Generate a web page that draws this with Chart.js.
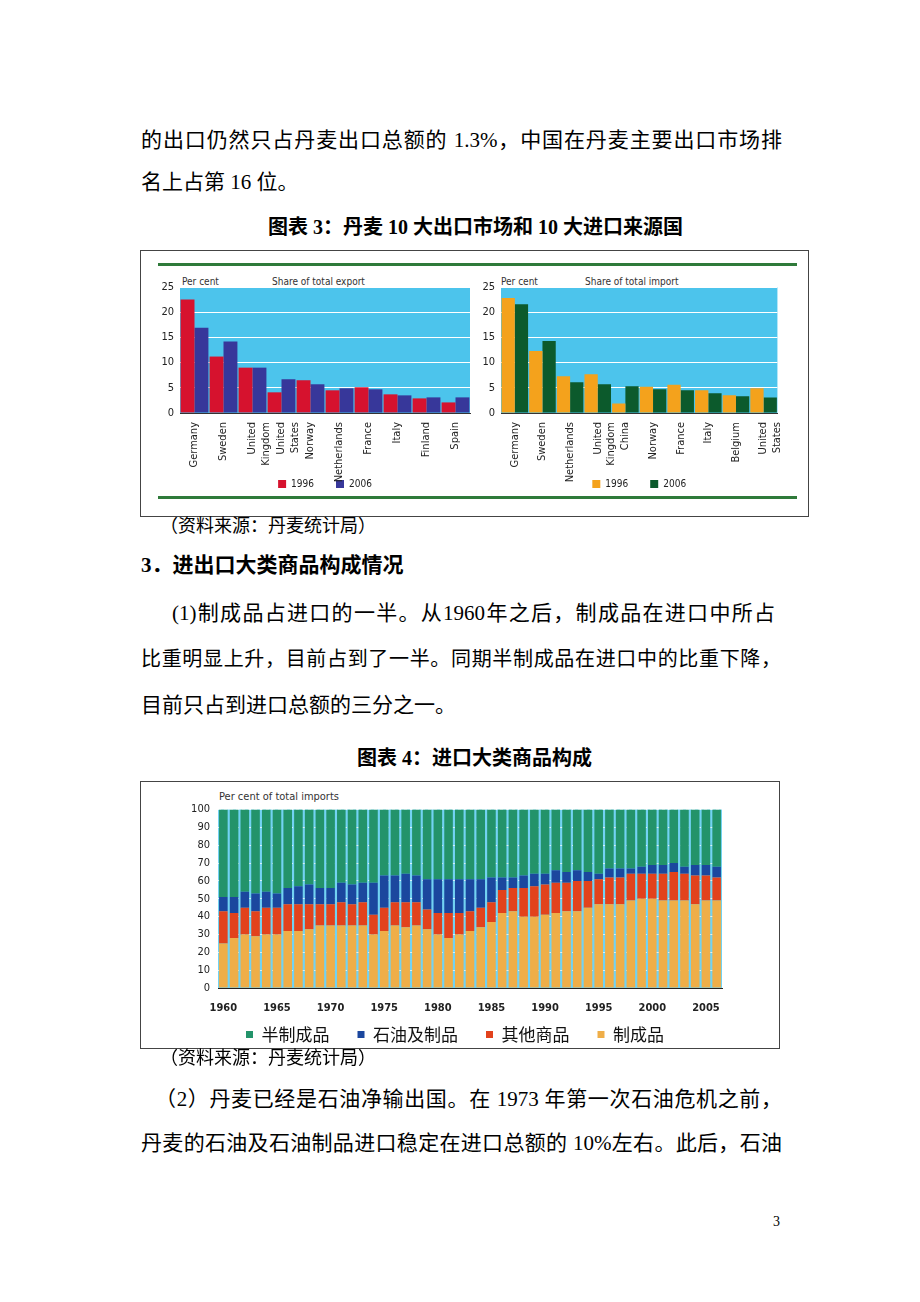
<!DOCTYPE html>
<html>
<head>
<meta charset="utf-8">
<script src="https://cdn.jsdelivr.net/npm/chart.js@4/dist/chart.umd.min.js"></script>
<style>
  body { margin:0; background:#fff; width:920px; height:1302px; position:relative; overflow:hidden;
         font-family:"Liberation Serif","Noto Sans CJK SC",serif; color:#000; }
  .t { position:absolute; font-size:21px; line-height:28px; white-space:nowrap; }
  .j { text-align:justify; text-align-last:justify; white-space:normal; }
  .b { font-weight:bold; }
  .box { position:absolute; border:1px solid #444; }
  .gl { position:absolute; height:3px; background:#2f7a3a; }
  .sm { position:absolute; font-family:"Liberation Sans Narrow","DejaVu Sans Condensed",sans-serif; font-size:10px; color:#333; white-space:nowrap; }
  canvas { position:absolute; }
</style>
</head>
<body>
<div class="t j" style="left:141px;top:126px;width:641px;">的出口仍然只占丹麦出口总额的 1.3%，中国在丹麦主要出口市场排</div>
<div class="t" style="left:141px;top:168px;">名上占第 16 位。</div>
<div class="t b" style="left:268px;top:213px;font-size:20px;">图表 3：丹麦 10 大出口市场和 10 大进口来源国</div>

<div class="box" style="left:140px;top:250px;width:667px;height:265px;"></div>
<div class="gl" style="left:158px;top:263px;width:639px;"></div>
<div class="gl" style="left:158px;top:496px;width:639px;"></div>
<div class="sm" style="left:182px;top:276px;">Per cent</div>
<div class="sm" style="left:272px;top:276px;">Share of total export</div>
<div class="sm" style="left:501px;top:276px;">Per cent</div>
<div class="sm" style="left:585px;top:276px;">Share of total import</div>
<canvas id="exp" width="330" height="229" style="left:150px;top:270px;"></canvas>
<canvas id="imp" width="320" height="229" style="left:471px;top:270px;"></canvas>

<div class="t" style="left:160px;top:512px;font-size:18px;">（资料来源：丹麦统计局）</div>
<div class="t b" style="left:141px;top:551px;">3．进出口大类商品构成情况</div>
<div class="t j" style="left:172px;top:599px;width:603px;">(1)制成品占进口的一半。从1960年之后，制成品在进口中所占</div>
<div class="t j" style="left:141px;top:645px;width:640px;font-size:20px;">比重明显上升，目前占到了一半。同期半制成品在进口中的比重下降，</div>
<div class="t" style="left:141px;top:691px;">目前只占到进口总额的三分之一。</div>
<div class="t b" style="left:357px;top:744px;font-size:20px;">图表 4：进口大类商品构成</div>

<div class="box" style="left:140px;top:781px;width:638px;height:266px;"></div>
<div class="sm" style="left:219px;top:790px;font-size:11px;">Per cent of total imports</div>
<canvas id="stk" width="620" height="258" style="left:150px;top:795px;"></canvas>

<div class="t" style="left:160px;top:1044px;font-size:18px;">（资料来源：丹麦统计局）</div>
<div class="t j" style="left:155px;top:1085px;width:627px;">（2）丹麦已经是石油净输出国。在 1973 年第一次石油危机之前，</div>
<div class="t j" style="left:141px;top:1129px;width:641px;">丹麦的石油及石油制品进口稳定在进口总额的 10%左右。此后，石油</div>
<div class="t" style="left:773px;top:1208px;font-size:14px;">3</div>

<script>
// figure 3 data (per cent)
const exportCountries = ['Germany', 'Sweden', ['United', 'Kingdom'], ['United', 'States'], 'Norway', 'Netherlands', 'France', 'Italy', 'Finland', 'Spain'];
const export1996 = [22.5, 11.2, 9.0, 4.1, 6.5, 4.5, 5.1, 3.7, 2.9, 2.1];
const export2006 = [16.9, 14.2, 9.0, 6.7, 5.7, 4.9, 4.7, 3.5, 3.1, 3.1];

const importCountries = ['Germany', 'Sweden', 'Netherlands', ['United', 'Kingdom'], 'China', 'Norway', 'France', 'Italy', 'Belgium', ['United', 'States']];
const import1996 = [22.8, 12.3, 7.3, 7.7, 1.9, 5.2, 5.6, 4.5, 3.5, 4.9];
const import2006 = [21.6, 14.3, 6.1, 5.7, 5.3, 4.7, 4.5, 3.9, 3.3, 3.1];

// figure 4 data (per cent of total imports)
const years = [1960, 1961, 1962, 1963, 1964, 1965, 1966, 1967, 1968, 1969,
  1970, 1971, 1972, 1973, 1974, 1975, 1976, 1977, 1978, 1979,
  1980, 1981, 1982, 1983, 1984, 1985, 1986, 1987, 1988, 1989,
  1990, 1991, 1992, 1993, 1994, 1995, 1996, 1997, 1998, 1999,
  2000, 2001, 2002, 2003, 2004, 2005, 2006];
const manufactured = [25, 28, 30, 29, 30, 30, 32, 32, 33, 35, 35, 35, 35, 35, 30, 32, 35, 34, 35, 33,
  30, 28, 30, 32, 34, 37, 42, 43, 40, 40, 41, 42, 43, 43, 45, 47, 47, 47, 49, 50, 50, 49, 49, 49, 47, 49, 49];
const otherGoods = [18, 14, 15, 14, 15, 15, 15, 15, 14, 12, 12, 13, 12, 13, 11, 13, 13, 14, 13, 11,
  12, 14, 12, 11, 11, 11, 13, 13, 16, 17, 17, 17, 16, 17, 15, 14, 15, 15, 15, 14, 14, 15, 16, 15, 16, 14, 13];
const oil = [8, 9, 9, 10, 9, 8, 9, 10, 11, 9, 9, 11, 11, 11, 18, 18, 15, 16, 15, 17,
  19, 19, 19, 18, 16, 14, 7, 6, 7, 7, 6, 7, 6, 6, 5, 3, 5, 5, 3, 4, 5, 5, 5, 4, 6, 6, 6];
const semiManufactured = [49, 49, 46, 47, 46, 47, 44, 43, 42, 44, 44, 41, 42, 41, 41, 37, 37, 36, 37, 39,
  39, 39, 39, 39, 39, 38, 38, 38, 37, 36, 36, 34, 35, 34, 35, 36, 33, 33, 33, 32, 31, 31, 30, 32, 31, 31, 32];

const narrow = '"Liberation Sans Narrow","DejaVu Sans Condensed",Arial,sans-serif';

// fill the plot area
const plotBg = {
  id: 'plotBg',
  beforeDraw(chart, args, opts) {
    const a = chart.chartArea, ctx = chart.ctx;
    ctx.save();
    ctx.fillStyle = opts.color;
    ctx.fillRect(a.left, a.top, a.right - a.left, a.bottom - a.top);
    ctx.restore();
  }
};

// x labels may run down into the legend's empty top padding, so no clipping
function shortX(h) {
  return function(scale) {
    scale.height = h;
    scale._computeLabelArea = function() {};
  };
}

function barOptions(rightPad) {
  return {
    responsive: false,
    animation: false,
    layout: { padding: { top: 17, right: rightPad, left: 0, bottom: 0 } },
    plugins: {
      plotBg: { color: '#4cc4ec' },
      legend: {
        position: 'bottom',
        fullSize: false,
        labels: { boxWidth: 8, boxHeight: 8, padding: 22, color: '#222', font: { family: narrow, size: 10 } }
      },
      tooltip: { enabled: false }
    },
    scales: {
      x: {
        grid: { display: false },
        border: { color: '#333', width: 1 },
        ticks: { autoSkip: false, minRotation: 90, maxRotation: 90, padding: 1, color: '#222', font: { family: narrow, size: 11 } },
        afterFit: shortX(44)
      },
      y: {
        min: 0, max: 25,
        grid: { color: '#ffffff', drawTicks: false },
        border: { display: false },
        ticks: { stepSize: 5, autoSkip: false, padding: 6, color: '#222', font: { family: narrow, size: 11 } },
        afterFit: function(scale) { scale.width = 30; }
      }
    }
  };
}

new Chart(document.getElementById('exp'), {
  type: 'bar',
  data: {
    labels: exportCountries,
    datasets: [
      { label: '1996', data: export1996, backgroundColor: '#d6122e', categoryPercentage: 0.96, barPercentage: 1 },
      { label: '2006', data: export2006, backgroundColor: '#37379a', categoryPercentage: 0.96, barPercentage: 1 }
    ]
  },
  options: barOptions(10),
  plugins: [plotBg]
});

new Chart(document.getElementById('imp'), {
  type: 'bar',
  data: {
    labels: importCountries,
    datasets: [
      { label: '1996', data: import1996, backgroundColor: '#f4a21c', categoryPercentage: 0.96, barPercentage: 1 },
      { label: '2006', data: import2006, backgroundColor: '#0c5a2c', categoryPercentage: 0.96, barPercentage: 1 }
    ]
  },
  options: barOptions(0),
  plugins: [plotBg]
});

/////////// STACKED IMPORT STRUCTURE //////////////
new Chart(document.getElementById('stk'), {
  type: 'bar',
  data: {
    labels: years,
    datasets: [
      { label: '制成品', data: manufactured, backgroundColor: '#efae48' },
      { label: '其他商品', data: otherGoods, backgroundColor: '#e2421c' },
      { label: '石油及制品', data: oil, backgroundColor: '#1b479e' },
      { label: '半制成品', data: semiManufactured, backgroundColor: '#23936a' }
    ]
  },
  options: {
    responsive: false,
    animation: false,
    datasets: { bar: { categoryPercentage: 0.8, barPercentage: 1 } },
    layout: { padding: { top: 10, right: 48, left: 0, bottom: 0 } },
    plugins: {
      plotBg: { color: '#72d2f2' },
      legend: {
        position: 'bottom',
        fullSize: false,
        align: 'start',
        reverse: true,
        labels: { boxWidth: 7, boxHeight: 7, padding: 28, color: '#111', font: { family: '"Noto Sans CJK SC",sans-serif', size: 17 } }
      },
      tooltip: { enabled: false }
    },
    scales: {
      x: {
        stacked: true,
        grid: { display: false },
        border: { color: '#222', width: 1 },
        ticks: {
          autoSkip: false, maxRotation: 0, padding: 6, color: '#222',
          font: { family: narrow, size: 11, weight: 'bold' },
          callback: function(v, i) { return years[i] % 5 === 0 ? String(years[i]) : ''; }
        },
        afterFit: shortX(10)
      },
      y: {
        stacked: true,
        min: 0, max: 100,
        z: 1,
        grid: { color: 'rgba(255,255,255,0.7)', drawTicks: false },
        border: { display: false, dash: [3, 3] },
        ticks: { stepSize: 10, autoSkip: false, padding: 8, color: '#222', font: { family: narrow, size: 11 } },
        afterFit: function(scale) { scale.width = 68; }
      }
    }
  },
  plugins: [plotBg]
});
</script>
</body>
</html>
